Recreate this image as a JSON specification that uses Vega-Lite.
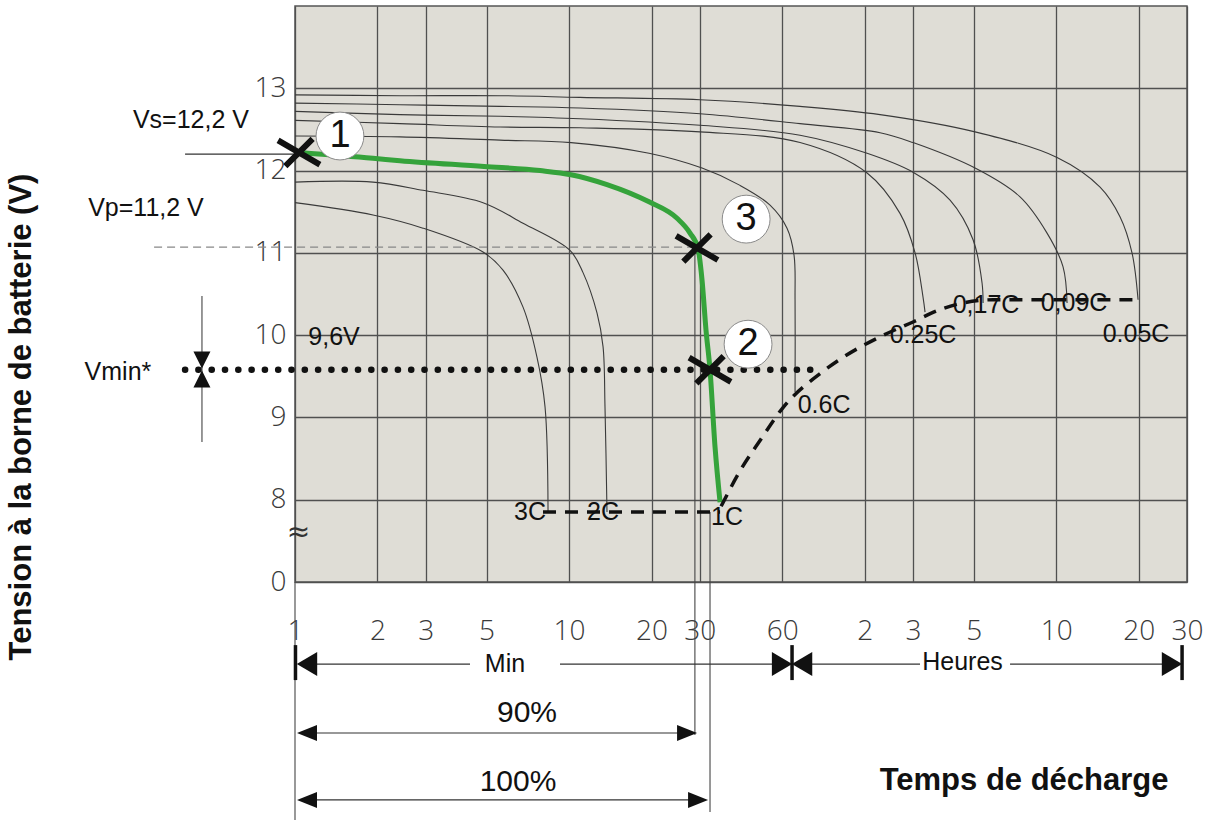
{
  "$schema": "https://vega.github.io/schema/vega-lite/v6.json",
  "width": 892,
  "height": 576,
  "autosize": {"type": "none"},
  "padding": {"left": 295, "top": 6, "right": 33, "bottom": 239},
  "background": "white",
  "view": {"fill": "#dfddd6", "stroke": "#555555", "strokeWidth": 1.5},
  "config": {"font": "Liberation Sans"},
  "datasets": {
    "curves": [
      {"c": "0.05C", "i": 1, "t": 1, "v": 12.92}, {"c": "0.05C", "i": 2, "t": 2.416, "v": 12.91}, {"c": "0.05C", "i": 3, "t": 5.6, "v": 12.91}, {"c": "0.05C", "i": 4, "t": 10.97, "v": 12.89}, {"c": "0.05C", "i": 5, "t": 30.07, "v": 12.86}, {"c": "0.05C", "i": 6, "t": 69.68, "v": 12.78}, {"c": "0.05C", "i": 7, "t": 136.5, "v": 12.68}, {"c": "0.05C", "i": 8, "t": 303.3, "v": 12.47}, {"c": "0.05C", "i": 9, "t": 604, "v": 12.16}, {"c": "0.05C", "i": 10, "t": 867, "v": 11.8}, {"c": "0.05C", "i": 11, "t": 1025, "v": 11.44}, {"c": "0.05C", "i": 12, "t": 1134, "v": 11.0}, {"c": "0.05C", "i": 13, "t": 1193, "v": 10.43},
      {"c": "0.09C", "i": 1, "t": 1, "v": 12.82}, {"c": "0.09C", "i": 2, "t": 2.416, "v": 12.8}, {"c": "0.09C", "i": 3, "t": 5.6, "v": 12.78}, {"c": "0.09C", "i": 4, "t": 10.97, "v": 12.76}, {"c": "0.09C", "i": 5, "t": 30.07, "v": 12.69}, {"c": "0.09C", "i": 6, "t": 69.68, "v": 12.57}, {"c": "0.09C", "i": 7, "t": 136.5, "v": 12.46}, {"c": "0.09C", "i": 8, "t": 180.1, "v": 12.34}, {"c": "0.09C", "i": 9, "t": 303.3, "v": 12.03}, {"c": "0.09C", "i": 10, "t": 442.6, "v": 11.68}, {"c": "0.09C", "i": 11, "t": 555.3, "v": 11.24}, {"c": "0.09C", "i": 12, "t": 635.3, "v": 10.83}, {"c": "0.09C", "i": 13, "t": 657, "v": 10.39},
      {"c": "0.17C", "i": 1, "t": 1, "v": 12.72}, {"c": "0.17C", "i": 2, "t": 2.416, "v": 12.68}, {"c": "0.17C", "i": 3, "t": 5.6, "v": 12.66}, {"c": "0.17C", "i": 4, "t": 10.97, "v": 12.63}, {"c": "0.17C", "i": 5, "t": 30.07, "v": 12.55}, {"c": "0.17C", "i": 6, "t": 69.68, "v": 12.43}, {"c": "0.17C", "i": 7, "t": 122.4, "v": 12.21}, {"c": "0.17C", "i": 8, "t": 180.1, "v": 11.98}, {"c": "0.17C", "i": 9, "t": 245.8, "v": 11.64}, {"c": "0.17C", "i": 10, "t": 298.2, "v": 11.16}, {"c": "0.17C", "i": 11, "t": 321.7, "v": 10.63}, {"c": "0.17C", "i": 12, "t": 324.4, "v": 10.39},
      {"c": "0.25C", "i": 1, "t": 1, "v": 12.61}, {"c": "0.25C", "i": 2, "t": 2.416, "v": 12.57}, {"c": "0.25C", "i": 3, "t": 5.6, "v": 12.53}, {"c": "0.25C", "i": 4, "t": 10.97, "v": 12.52}, {"c": "0.25C", "i": 5, "t": 30.07, "v": 12.47}, {"c": "0.25C", "i": 6, "t": 69.68, "v": 12.34}, {"c": "0.25C", "i": 7, "t": 122.4, "v": 11.97}, {"c": "0.25C", "i": 8, "t": 161.4, "v": 11.48}, {"c": "0.25C", "i": 9, "t": 183.2, "v": 11.0}, {"c": "0.25C", "i": 10, "t": 195.9, "v": 10.46}, {"c": "0.25C", "i": 11, "t": 199.2, "v": 10.28},
      {"c": "0.6C", "i": 1, "t": 1, "v": 12.42}, {"c": "0.6C", "i": 2, "t": 2.416, "v": 12.41}, {"c": "0.6C", "i": 3, "t": 5.6, "v": 12.37}, {"c": "0.6C", "i": 4, "t": 10.17, "v": 12.34}, {"c": "0.6C", "i": 5, "t": 19.59, "v": 12.21}, {"c": "0.6C", "i": 6, "t": 30.58, "v": 12.03}, {"c": "0.6C", "i": 7, "t": 42.09, "v": 11.82}, {"c": "0.6C", "i": 8, "t": 54.15, "v": 11.58}, {"c": "0.6C", "i": 9, "t": 62.46, "v": 11.3}, {"c": "0.6C", "i": 10, "t": 66.26, "v": 10.97}, {"c": "0.6C", "i": 11, "t": 66.82, "v": 10.43}, {"c": "0.6C", "i": 12, "t": 66.82, "v": 9.31},
      {"c": "2C", "i": 1, "t": 1, "v": 11.86}, {"c": "2C", "i": 2, "t": 1.926, "v": 11.86}, {"c": "2C", "i": 3, "t": 2.932, "v": 11.76}, {"c": "2C", "i": 4, "t": 4.855, "v": 11.61}, {"c": "2C", "i": 5, "t": 6.795, "v": 11.36}, {"c": "2C", "i": 6, "t": 10.08, "v": 11.03}, {"c": "2C", "i": 7, "t": 11.25, "v": 10.76}, {"c": "2C", "i": 8, "t": 12.65, "v": 10.27}, {"c": "2C", "i": 9, "t": 13.31, "v": 9.86}, {"c": "2C", "i": 10, "t": 13.53, "v": 9.13}, {"c": "2C", "i": 11, "t": 13.76, "v": 7.85},
      {"c": "3C", "i": 1, "t": 1, "v": 11.61}, {"c": "3C", "i": 2, "t": 1.926, "v": 11.46}, {"c": "3C", "i": 3, "t": 2.932, "v": 11.3}, {"c": "3C", "i": 4, "t": 4.855, "v": 11.01}, {"c": "3C", "i": 5, "t": 5.743, "v": 10.79}, {"c": "3C", "i": 6, "t": 6.795, "v": 10.34}, {"c": "3C", "i": 7, "t": 7.642, "v": 9.73}, {"c": "3C", "i": 8, "t": 8.174, "v": 9.13}, {"c": "3C", "i": 9, "t": 8.384, "v": 7.85}
    ],
    "green": [
      {"i": 1, "t": 1.034, "v": 12.22}, {"i": 2, "t": 1.926, "v": 12.15}, {"i": 3, "t": 2.416, "v": 12.12}, {"i": 4, "t": 4.896, "v": 12.05}, {"i": 5, "t": 7.838, "v": 12.0}, {"i": 6, "t": 10.17, "v": 11.95}, {"i": 7, "t": 13.76, "v": 11.83}, {"i": 8, "t": 19.59, "v": 11.62}, {"i": 9, "t": 24.79, "v": 11.42}, {"i": 10, "t": 27.65, "v": 11.24}, {"i": 11, "t": 29.57, "v": 11.05}, {"i": 12, "t": 30.58, "v": 10.67}, {"i": 13, "t": 31.62, "v": 10.06}, {"i": 14, "t": 32.7, "v": 9.58}, {"i": 15, "t": 34.11, "v": 8.64}, {"i": 16, "t": 35.58, "v": 7.97}
    ],
    "endsFlat": [{"t": 8.036, "t2": 35.58, "v": 7.85}],
    "ends": [
      {"i": 1, "t": 35.9, "v": 7.92}, {"i": 2, "t": 42.09, "v": 8.35}, {"i": 3, "t": 49.78, "v": 8.72}, {"i": 4, "t": 60.4, "v": 9.12}, {"i": 5, "t": 83.8, "v": 9.55}, {"i": 6, "t": 100, "v": 9.73}, {"i": 7, "t": 136.5, "v": 9.98}, {"i": 8, "t": 180.1, "v": 10.16}, {"i": 9, "t": 225.9, "v": 10.31}, {"i": 10, "t": 352.7, "v": 10.43}, {"i": 11, "t": 1213, "v": 10.43}
    ],
    "vrules": [
      {"t": 1, "v": 7, "v2": 4.108},
      {"t": 28.8, "v": 11.04, "v2": 5.14},
      {"t": 32.7, "v": 7.85, "v2": 4.205},
      {"t": 0.4576, "v": 10.476, "v2": 8.701}
    ],
    "bars": [
      {"t": 1.004, "v": 6.233, "v2": 5.808},
      {"t": 65.15, "v": 6.233, "v2": 5.808},
      {"t": 1727, "v": 6.233, "v2": 5.808}
    ],
    "hrules": [
      {"t": 0.397, "t2": 1.0, "v": 12.2},
      {"t": 1.106, "t2": 4.352, "v": 6.003},
      {"t": 9.27, "t2": 59.9, "v": 6.003},
      {"t": 70.86, "t2": 191, "v": 6.003},
      {"t": 406.9, "t2": 1587, "v": 6.003},
      {"t": 1.106, "t2": 26.97, "v": 5.165},
      {"t": 1.106, "t2": 29.57, "v": 4.351}
    ],
    "vp": [{"t": 0.306, "t2": 29, "v": 11.07}],
    "vmin": [{"t": 0.397, "t2": 80, "v": 9.58}],
    "triBig": [
      {"d": "L1", "t": 1.106, "v": 6.003},
      {"d": "R1", "t": 59.9, "v": 6.003},
      {"d": "L1", "t": 70.86, "v": 6.003},
      {"d": "R1", "t": 1587, "v": 6.003}
    ],
    "triSmall": [
      {"d": "L2", "t": 1.106, "v": 5.165},
      {"d": "R2", "t": 26.97, "v": 5.165},
      {"d": "L2", "t": 1.106, "v": 4.351},
      {"d": "R2", "t": 29.57, "v": 4.351}
    ],
    "triV": [
      {"d": "D", "t": 0.4576, "v": 9.698},
      {"d": "U", "t": 0.4576, "v": 9.467}
    ],
    "marks": [
      {"t": 1.034, "v": 12.22},
      {"t": 29.31, "v": 11.06},
      {"t": 32.7, "v": 9.58}
    ],
    "circles": [
      {"t": 1.459, "v": 12.42, "n": "1"},
      {"t": 44.3, "v": 11.41, "n": "3"},
      {"t": 45.02, "v": 9.89, "n": "2"}
    ],
    "labels": [
      {"t": 0.4172, "v": 12.615, "label": "Vs=12,2 V"},
      {"t": 0.2859, "v": 11.545, "label": "Vp=11,2 V"},
      {"t": 0.2259, "v": 9.55, "label": "Vmin*"},
      {"t": 1.388, "v": 9.977, "label": "9,6V"},
      {"t": 7.206, "v": 7.85, "label": "3C"},
      {"t": 13.31, "v": 7.85, "label": "2C"},
      {"t": 37.72, "v": 7.79, "label": "1C"},
      {"t": 85.25, "v": 9.151, "label": "0.6C"},
      {"t": 195.9, "v": 10.0, "label": "0.25C"},
      {"t": 332.6, "v": 10.37, "label": "0,17C"},
      {"t": 696.7, "v": 10.39, "label": "0,09C"},
      {"t": 1173, "v": 10.01, "label": "0.05C"},
      {"t": 5.84, "v": 6.003, "label": "Min"},
      {"t": 273, "v": 6.03, "label": "Heures"}
    ],
    "pct": [
      {"t": 7.025, "v": 5.408, "label": "90%"},
      {"t": 6.515, "v": 4.569, "label": "100%"}
    ],
    "approx": [{"t": 1.03, "v": 7.595, "label": "≈"}],
    "xtitle": [{"t": 457.8, "v": 4.472, "label": "Temps de décharge"}],
    "ytitle": [{"t": 0.1008, "v": 9.005, "label": "Tension à la borne de batterie (V)"}]
  },
  "encoding": {
    "x": {
      "field": "t", "type": "quantitative",
      "scale": {"type": "log", "domain": [1, 1800], "nice": false},
      "axis": {
        "title": null, "values": [1, 2, 3, 5, 10, 20, 30, 60, 120, 180, 300, 600, 1200, 1800],
        "labelExpr": "datum.value >= 120 ? format(datum.value / 60, 'd') : format(datum.value, 'd')",
        "grid": true, "gridColor": "#505050", "gridWidth": 1.3, "gridOpacity": 1,
        "ticks": false, "tickSize": 0, "domain": false,
        "labelFont": "Open Sans", "labelFontWeight": 300, "labelFontSize": 28, "labelColor": "#3a3a3a",
        "labelPadding": 35, "labelBaseline": "top", "labelFlush": false, "labelOverlap": false
      }
    },
    "y": {
      "field": "v", "type": "quantitative",
      "scale": {"domain": [7, 14], "nice": false, "zero": false},
      "axis": {
        "title": null, "values": [7, 8, 9, 10, 11, 12, 13],
        "labelExpr": "datum.value == 7 ? '0' : format(datum.value, 'd')",
        "grid": true, "gridColor": "#505050", "gridWidth": 1.3, "gridOpacity": 1,
        "ticks": false, "tickSize": 0, "domain": false,
        "labelFont": "Open Sans", "labelFontWeight": 300, "labelFontSize": 28, "labelColor": "#3a3a3a",
        "labelPadding": 9, "labelFlush": false, "labelOverlap": false
      }
    }
  },
  "layer": [
    {
      "data": {"name": "curves"},
      "mark": {"type": "line", "color": "#3a3a3a", "strokeWidth": 1.1, "interpolate": "catmull-rom"},
      "encoding": {"detail": {"field": "c"}, "order": {"field": "i", "type": "quantitative"}}
    },
    {
      "data": {"name": "vp"},
      "mark": {"type": "rule", "color": "#888888", "strokeWidth": 1.2, "strokeDash": [8, 5]},
      "encoding": {"x2": {"field": "t2"}}
    },
    {
      "data": {"name": "vrules"},
      "mark": {"type": "rule", "color": "#444444", "strokeWidth": 1.1},
      "encoding": {"y2": {"field": "v2"}}
    },
    {
      "data": {"name": "hrules"},
      "mark": {"type": "rule", "color": "#333333", "strokeWidth": 1.2},
      "encoding": {"x2": {"field": "t2"}}
    },
    {
      "data": {"name": "bars"},
      "mark": {"type": "rule", "color": "#111111", "strokeWidth": 3.5},
      "encoding": {"y2": {"field": "v2"}}
    },
    {
      "data": {"name": "green"},
      "mark": {"type": "line", "color": "#35a33b", "strokeWidth": 5, "interpolate": "monotone"},
      "encoding": {"order": {"field": "i", "type": "quantitative"}}
    },
    {
      "data": {"name": "endsFlat"},
      "mark": {"type": "rule", "color": "#111111", "strokeWidth": 3.5, "strokeDash": [13, 9]},
      "encoding": {"x2": {"field": "t2"}}
    },
    {
      "data": {"name": "ends"},
      "mark": {"type": "line", "color": "#111111", "strokeWidth": 3.5, "strokeDash": [13, 9], "interpolate": "monotone"},
      "encoding": {"order": {"field": "i", "type": "quantitative"}}
    },
    {
      "data": {"name": "vmin"},
      "mark": {"type": "rule", "color": "#111111", "strokeWidth": 6.5, "strokeDash": [0.1, 13.2], "strokeCap": "round"},
      "encoding": {"x2": {"field": "t2"}}
    },
    {
      "data": {"name": "triBig"},
      "mark": {"type": "point", "filled": true, "size": 576, "color": "#111111", "opacity": 1, "strokeWidth": 0},
      "encoding": {"shape": {"field": "d", "type": "nominal", "legend": null, "scale": {"domain": ["L1", "R1", "L2", "R2", "U", "D"], "range": ["M-0.85,0L0.85,-1L0.85,1Z", "M0.85,0L-0.85,-1L-0.85,1Z", "M-1,0L1,-0.8L1,0.8Z", "M1,0L-1,-0.8L-1,0.8Z", "M0,-1L1,1L-1,1Z", "M0,1L1,-1L-1,-1Z"]}}}
    },
    {
      "data": {"name": "triSmall"},
      "mark": {"type": "point", "filled": true, "size": 400, "color": "#111111", "opacity": 1, "strokeWidth": 0},
      "encoding": {"shape": {"field": "d", "type": "nominal", "legend": null}}
    },
    {
      "data": {"name": "triV"},
      "mark": {"type": "point", "filled": true, "size": 289, "color": "#111111", "opacity": 1, "strokeWidth": 0},
      "encoding": {"shape": {"field": "d", "type": "nominal", "legend": null}}
    },
    {
      "data": {"name": "marks"},
      "mark": {"type": "point", "shape": "M-0.95,-0.55L0.95,0.55M-0.62,0.62L0.62,-0.62", "filled": false, "stroke": "#111111", "strokeWidth": 6, "size": 1936, "opacity": 1}
    },
    {
      "data": {"name": "circles"},
      "mark": {"type": "point", "shape": "circle", "filled": true, "fill": "white", "stroke": "#8a8a8a", "strokeWidth": 1, "size": 2290, "opacity": 1}
    },
    {
      "data": {"name": "circles"},
      "mark": {"type": "text", "fontSize": 38, "font": "Liberation Sans", "color": "#111111", "align": "center", "baseline": "middle"},
      "encoding": {"text": {"field": "n"}}
    },
    {
      "data": {"name": "labels"},
      "mark": {"type": "text", "fontSize": 25, "font": "Liberation Sans", "color": "#111111", "align": "center", "baseline": "middle"},
      "encoding": {"text": {"field": "label"}}
    },
    {
      "data": {"name": "pct"},
      "mark": {"type": "text", "fontSize": 30, "font": "Liberation Sans", "color": "#111111", "align": "center", "baseline": "middle"},
      "encoding": {"text": {"field": "label"}}
    },
    {
      "data": {"name": "approx"},
      "mark": {"type": "text", "fontSize": 28, "font": "DejaVu Sans", "color": "#333333", "align": "center", "baseline": "middle"},
      "encoding": {"text": {"field": "label"}}
    },
    {
      "data": {"name": "xtitle"},
      "mark": {"type": "text", "fontSize": 31, "font": "Liberation Sans", "fontWeight": "bold", "color": "#111111", "align": "center", "baseline": "alphabetic"},
      "encoding": {"text": {"field": "label"}}
    },
    {
      "data": {"name": "ytitle"},
      "mark": {"type": "text", "fontSize": 31, "font": "Liberation Sans", "fontWeight": "bold", "color": "#111111", "align": "center", "baseline": "middle", "angle": 270},
      "encoding": {"text": {"field": "label"}}
    }
  ]
}
